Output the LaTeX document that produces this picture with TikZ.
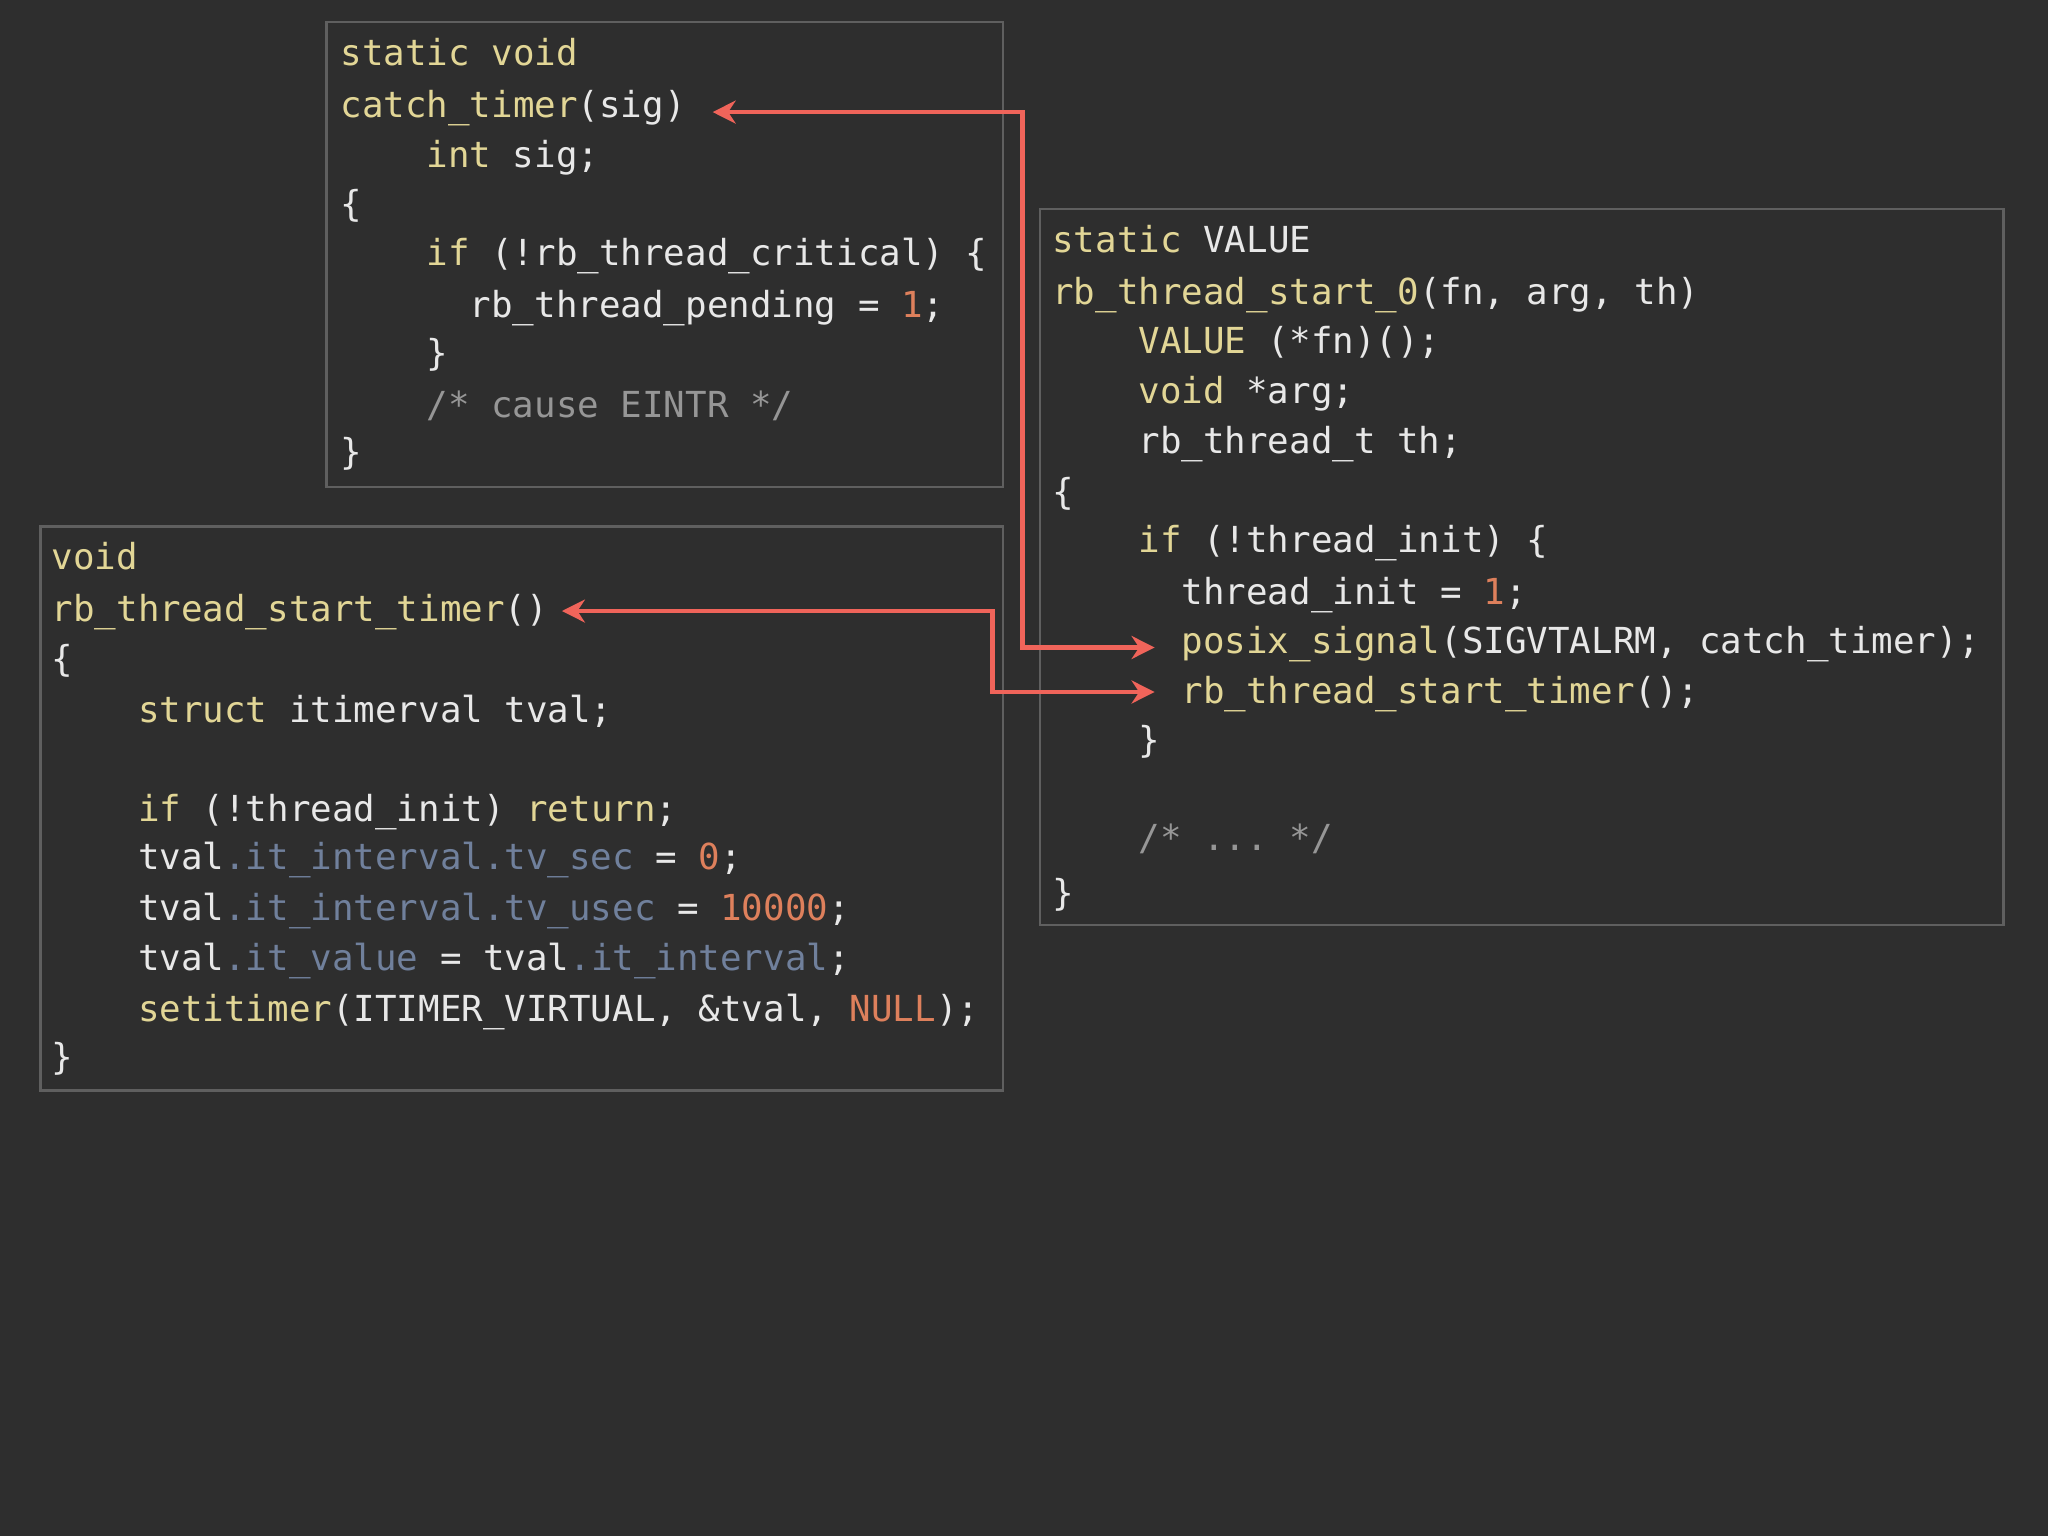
\documentclass[tikz,border=0pt]{standalone}
\usepackage{fontspec}
\setmonofont{DejaVu Sans Mono}
\usetikzlibrary{arrows.meta}
\definecolor{bg}{RGB}{46,46,46}
\definecolor{boxc}{RGB}{95,95,95}
\definecolor{kw}{RGB}{226,214,150}
\definecolor{tx}{RGB}{232,232,232}
\definecolor{num}{RGB}{222,128,92}
\definecolor{cm}{RGB}{150,150,150}
\definecolor{fld}{RGB}{112,128,156}
\definecolor{arr}{RGB}{240,100,90}
\newcommand{\K}[1]{\textcolor{kw}{#1}}
\newcommand{\N}[1]{\textcolor{num}{#1}}
\newcommand{\Cm}[1]{\textcolor{cm}{#1}}
\newcommand{\F}[1]{\textcolor{fld}{#1}}
\tikzset{ln/.style={anchor=base west,inner sep=0pt,text=tx,font=\ttfamily\fontsize{7.8}{9}\selectfont},
codebox/.style={draw=boxc,line width=0.5pt},
link/.style={draw=arr,line width=1pt,{Stealth[length=5pt,width=5pt]}-{Stealth[length=5pt,width=5pt]}}}
\begin{document}
\begin{tikzpicture}[x=0.01cm,y=-0.01cm]
\fill[bg] (0,0) rectangle (1568,1176);
\useasboundingbox (0,0) rectangle (1568,1176);
\draw[codebox] (250,17) rectangle (768,373);
\draw[codebox] (31,403) rectangle (768,835);
\draw[codebox] (796,160) rectangle (1534,708);
% box 1
\node[ln] (a1) at (260,50) {\K{static void}};
\node[ln] (a2) at (260,90) {\K{catch\_timer}(sig)};
\node[ln] (a3) at (326,128) {\K{int} sig;};
\node[ln] (a4) at (260,166) {\{};
\node[ln] (a5) at (326,203) {\K{if} (!rb\_thread\_critical) \{};
\node[ln] (a6) at (359,243) {rb\_thread\_pending = \N{1};};
\node[ln] (a7) at (326,280) {\}};
\node[ln] (a8) at (326,320) {\Cm{/* cause EINTR */}};
\node[ln] (a9) at (260,356) {\}};
% box 2
\node[ln] (b1) at (39,436) {\K{void}};
\node[ln] (b2) at (39,476) {\K{rb\_thread\_start\_timer}()};
\node[ln] (b3) at (39,514) {\{};
\node[ln] (b4) at (105,553) {\K{struct} itimerval tval;};
\node[ln] (b5) at (105,629) {\K{if} (!thread\_init) \K{return};};
\node[ln] (b6) at (105,666) {tval\F{.it\_interval.tv\_sec} = \N{0};};
\node[ln] (b7) at (105,705) {tval\F{.it\_interval.tv\_usec} = \N{10000};};
\node[ln] (b8) at (105,743) {tval\F{.it\_value} = tval\F{.it\_interval};};
\node[ln] (b9) at (105,782) {\K{setitimer}(ITIMER\_VIRTUAL, \&tval, \N{NULL});};
\node[ln] (b10) at (39,819) {\}};
% box 3
\node[ln] (c1) at (805,193) {\K{static} VALUE};
\node[ln] (c2) at (805,233) {\K{rb\_thread\_start\_0}(fn, arg, th)};
\node[ln] (c3) at (871,271) {\K{VALUE} (*fn)();};
\node[ln] (c4) at (871,309) {\K{void} *arg;};
\node[ln] (c5) at (871,347) {rb\_thread\_t th;};
\node[ln] (c6) at (805,386) {\{};
\node[ln] (c7) at (871,423) {\K{if} (!thread\_init) \{};
\node[ln] (c8) at (904,463) {thread\_init = \N{1};};
\node[ln] (c9) at (904,500) {\K{posix\_signal}(SIGVTALRM, catch\_timer);};
\node[ln] (c10) at (904,539) {\K{rb\_thread\_start\_timer}();};
\node[ln] (c11) at (871,576) {\}};
\node[ln] (c12) at (871,651) {\Cm{/* ... */}};
\node[ln] (c13) at (805,693) {\}};
% connectors
\coordinate (p1) at ([xshift=0.2cm,yshift=-0.03cm]a2.east);
\coordinate (p2) at ([xshift=-0.2cm,yshift=-0.03cm]c9.west);
\coordinate (q1) at ([xshift=0.1cm,yshift=0.01cm]b2.east);
\coordinate (q2) at ([xshift=-0.2cm,yshift=0.02cm]c10.west);
\draw[link] (p1) -- (783,0 |- p1) |- (p2);
\draw[link] (q1) -- (760,0 |- q1) |- (q2);
\end{tikzpicture}
\end{document}
